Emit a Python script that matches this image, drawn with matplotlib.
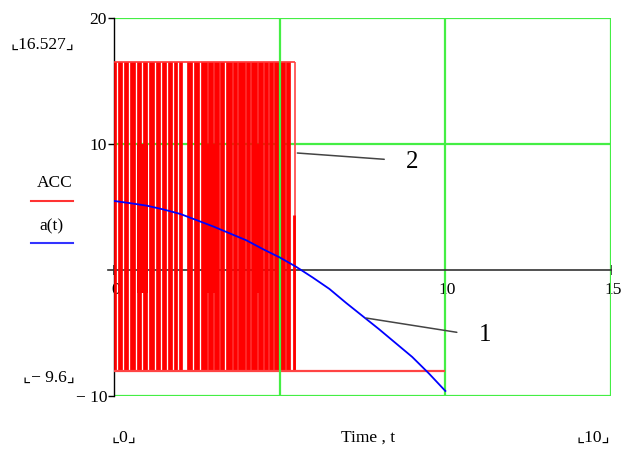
import matplotlib
matplotlib.use('Agg')
import matplotlib.pyplot as plt
import matplotlib.transforms as mtransforms

# curve a(t)
t_a = [0, 0.5, 1, 1.5, 2, 2.5, 3, 3.5, 4, 4.5, 5, 5.5, 6, 6.5, 7, 7.5, 8, 8.5, 9, 9.5, 10]
a_t = [5.48, 5.3, 5.1, 4.8, 4.45, 3.95, 3.45, 2.9, 2.35, 1.65, 1.0, 0.25, -0.6, -1.5,
       -2.6, -3.65, -4.7, -5.8, -6.9, -8.2, -9.6]

# ACC: dense switching bursts between the two levels
acc_high = 16.527
acc_low = -8.0
burst_start = [0.00, 0.109, 0.290, 0.471, 0.683, 0.864, 1.045, 1.257, 1.438, 1.619,
               1.800, 1.952, 2.205, 2.405, 2.616, 2.828, 3.009, 3.190, 3.371, 3.583,
               3.734, 3.976, 4.127, 4.338, 4.520, 4.671, 4.822, 5.184]
burst_end = [0.073, 0.254, 0.435, 0.647, 0.828, 1.009, 1.221, 1.402, 1.583, 1.764,
             1.916, 2.054, 2.369, 2.580, 2.792, 2.973, 3.154, 3.335, 3.547, 3.698,
             3.940, 4.091, 4.302, 4.484, 4.635, 4.786, 5.148, 5.299]
# stretches where the switching stays between -1.8 and 10
mid_start = [0.685, 2.82, 4.16]
mid_end = [1.02, 3.15, 4.51]
mid_lo, mid_hi = -1.8, 10.0
t_last = 5.45       # last switch
spike_top = 4.4
t_stop = 10.0

W, H = 622, 457
fig = plt.figure(figsize=(W / 100, H / 100), dpi=100)
ax = fig.add_axes([114 / W, 1 - 396 / H, 497 / W, 378 / H])
ax.set_xlim(0, 15)
ax.set_ylim(-10, 20)

serif = ['Liberation Serif', 'DejaVu Serif', 'DejaVu Sans']
green = '#44ee44'

# grid lines (green) and axes (black)
for yv in (20, 10, -10):
    ax.axhline(yv, color=green, lw=1.6, zorder=2)
for xv in (10, 15):
    ax.axvline(xv, color=green, lw=1.6, zorder=2)
ax.axvline(5, color=green, lw=1.6, zorder=3.5)

for s in ('top', 'right'):
    ax.spines[s].set_visible(False)
ax.spines['left'].set_color('black')
ax.spines['left'].set_linewidth(1.0)
ax.spines['bottom'].set_position(('data', 0))
ax.spines['bottom'].set_color('#333333')
ax.spines['bottom'].set_linewidth(1.2)
ax.spines['bottom'].set_bounds(-0.18, 15)
ax.spines['bottom'].set_clip_on(False)

ax.set_xticks([0, 5, 10, 15])
ax.set_xticklabels(['0', '5', '10', '15'], family=serif, fontsize=12.5)
ax.set_yticks([-10, 10, 20])
ax.set_yticklabels(['\u2212 10', '10', '20'], family=serif, fontsize=12.5)
ax.tick_params(axis='x', direction='inout', length=7, width=1.2, pad=5, colors='#333333')
ax.tick_params(axis='x', labelcolor='black')
ax.tick_params(axis='y', direction='out', length=4, width=1, pad=1)
shift = mtransforms.ScaledTranslation(2 / 100, 0, fig.dpi_scale_trans)
for lab in ax.get_xticklabels():
    lab.set_transform(lab.get_transform() + shift)

# ACC signal
widths = [e - s for s, e in zip(burst_start, burst_end)]
ax.bar(burst_start, acc_high - acc_low, width=widths, bottom=acc_low, align='edge',
       color='#ff0000', edgecolor='#ff0000', linewidth=0.5, zorder=3)
ax.bar(mid_start, mid_hi - mid_lo, width=[e - s for s, e in zip(mid_start, mid_end)],
       bottom=mid_lo, align='edge', color='#ff0000', edgecolor='none', zorder=3)
ax.hlines(acc_high, 0, t_last, color='#ff3333', lw=1.2, zorder=3)
ax.vlines(t_last, acc_low, acc_high, color='#ff4444', lw=1.2, zorder=3)
ax.vlines(t_last - 0.02, acc_low, spike_top, color='#ff0000', lw=2, zorder=3)
ax.hlines(acc_low, 0, t_stop, color='#ff4444', lw=1.6, zorder=3)

# a(t)
ax.plot(t_a, a_t, color='#0000ff', lw=1.3, zorder=4)

# leader lines and numbers
ax.annotate('', xy=(5.45, 9.3), xytext=(8.24, 8.77),
            arrowprops=dict(arrowstyle='-', color='#444444', lw=1.1), zorder=5)
ax.text(8.99, 8.6, '2', family=serif, fontsize=18, ha='center', va='center')
ax.annotate('', xy=(7.53, -3.78), xytext=(10.43, -4.98),
            arrowprops=dict(arrowstyle='-', color='#444444', lw=1.1), zorder=5)
ax.text(11.2, -5.16, '1', family=serif, fontsize=18, ha='center', va='center')


def px_text(x, y, s, **kw):
    fig.text(x / W, 1 - y / H, s, family=serif, fontsize=12.5, **kw)


# side labels
px_text(42, 45, '\u231e16.527\u231f', ha='center', va='center')
px_text(49, 378, '\u231e\u2212 9.6\u231f', ha='center', va='center')
px_text(55, 183, 'ACC', ha='center', va='center')
px_text(51, 226, 'a(t)', ha='center', va='center')
fig.add_artist(plt.Line2D([31 / W, 73 / W], [1 - 201 / H, 1 - 201 / H], color='#ff3333', lw=1.5))
fig.add_artist(plt.Line2D([31 / W, 73 / W], [1 - 243 / H, 1 - 243 / H], color='#3333ff', lw=1.5))

# bottom labels
px_text(124, 438, '\u231e0\u231f', ha='center', va='center')
px_text(368, 438, 'Time , t', ha='center', va='center')
px_text(593, 438, '\u231e10\u231f', ha='center', va='center')

fig.savefig('out.png', dpi=100)
